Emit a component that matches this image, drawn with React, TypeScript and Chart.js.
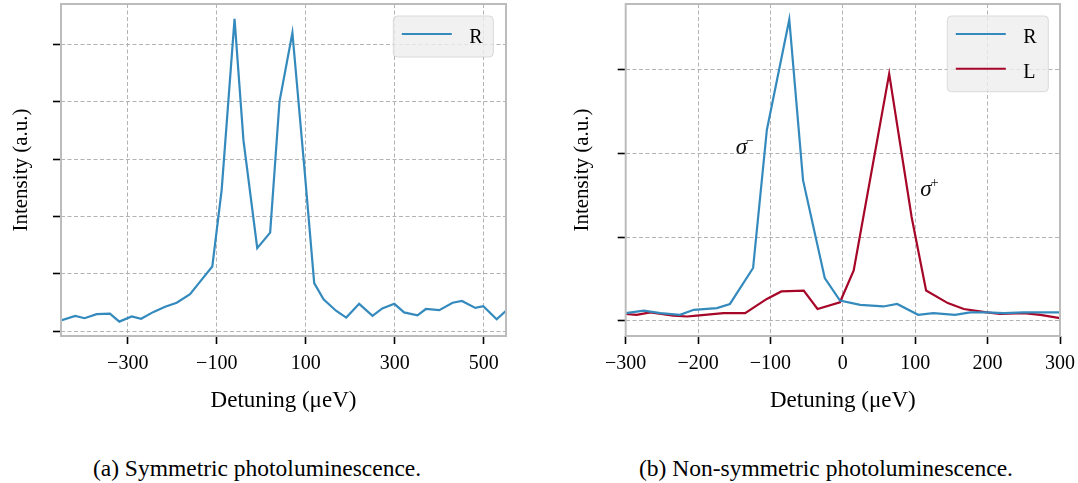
import React, { useEffect, useRef } from "react";
import { Chart, registerables } from "chart.js";

Chart.register(...registerables);

// ---------- Data: (a) symmetric photoluminescence ----------
const symDetuning = [
  -450, -418, -397, -370, -340, -319, -291, -270, -242, -216, -190, -160, -137, -110, -89, -60, -40, -9, 20, 41,
  70, 98, 119, 140, 168, 191, 220, 250, 272, 299, 321, 351, 370, 400, 430, 451, 481, 499, 529, 550,
];
const symR = [
  0.19, 0.27, 0.23, 0.3, 0.31, 0.17, 0.26, 0.22, 0.34, 0.43, 0.5, 0.65, 0.87, 1.13, 2.46, 5.44, 3.33, 1.45, 1.72, 4.0,
  5.2, 2.75, 0.84, 0.56, 0.36, 0.24, 0.48, 0.27, 0.4, 0.48, 0.33, 0.28, 0.39, 0.37, 0.5, 0.53, 0.41, 0.44, 0.21, 0.36,
];

// ---------- Data: (b) non-symmetric photoluminescence ----------
const asymDetuningR = [
  -300, -275, -252, -225, -206, -174, -156, -124, -105, -74, -55, -25, -4, 24, 56, 75, 104, 125, 155, 176, 199, 222,
  250, 277, 300,
];
const asymR = [
  0.09, 0.12, 0.09, 0.07, 0.13, 0.15, 0.2, 0.63, 2.28, 3.6, 1.68, 0.51, 0.24, 0.19, 0.17, 0.2, 0.07, 0.09, 0.07, 0.1,
  0.1, 0.09, 0.1, 0.1, 0.1,
];
const asymDetuningL = [
  -300, -285, -266, -234, -215, -202, -165, -135, -105, -85, -54, -35, -4, 15, 64, 95, 115, 145, 167, 199, 217, 250,
  273, 300,
];
const asymL = [
  0.08, 0.07, 0.1, 0.06, 0.05, 0.06, 0.09, 0.09, 0.26, 0.35, 0.36, 0.14, 0.22, 0.6, 2.95, 1.24, 0.36, 0.21, 0.14, 0.1,
  0.08, 0.09, 0.07, 0.03,
];

// ---------- Tick values ----------
const xTicksA = [-300, -100, 100, 300, 500];
const yTicksA = [0, 1, 2, 3, 4, 5];
const xTicksB = [-300, -200, -100, 0, 100, 200, 300];
const yTicksB = [0, 1, 2, 3];

const seriesLabels = ["R", "L"];
const captionA = "(a) Symmetric photoluminescence.";
const captionB = "(b) Non-symmetric photoluminescence.";
const xTitle = "Detuning (μeV)";
const yTitle = "Intensity (a.u.)";

const BLUE = "#348ABD";
const RED = "#A60628";
const SERIF = '"Liberation Serif", "DejaVu Serif", serif';

const fmt = (v: number) => (v < 0 ? "\u2212" + Math.abs(v) : String(v));
const toPoints = (xs: number[], ys: number[]) => xs.map((x, i) => ({ x, y: ys[i] }));

const framePlugin = {
  id: "frame",
  afterDatasetsDraw(chart: any) {
    const { ctx, chartArea: a } = chart;
    ctx.save();
    ctx.strokeStyle = "#bcbcbc";
    ctx.lineWidth = 2;
    ctx.strokeRect(a.left, a.top, a.right - a.left, a.bottom - a.top);
    ctx.restore();
  },
};

const boxLegendPlugin = {
  id: "boxLegend",
  afterDraw(chart: any, _args: any, opts: any) {
    const { ctx, chartArea: a } = chart;
    const n = chart.data.datasets.length;
    const w = opts.width;
    const h = 18 + (n - 1) * opts.rowHeight + 23;
    const x0 = a.right - opts.right - w;
    const y0 = a.top + opts.top;
    ctx.save();
    ctx.beginPath();
    if (ctx.roundRect) ctx.roundRect(x0, y0, w, h, 4);
    else ctx.rect(x0, y0, w, h);
    ctx.fillStyle = "rgba(238,238,238,0.8)";
    ctx.fill();
    ctx.strokeStyle = "rgba(210,210,210,0.8)";
    ctx.lineWidth = 1;
    ctx.stroke();
    chart.data.datasets.forEach((ds: any, i: number) => {
      const ly = y0 + 18 + i * opts.rowHeight;
      ctx.beginPath();
      ctx.strokeStyle = ds.borderColor;
      ctx.lineWidth = 2;
      ctx.moveTo(x0 + 8.5, ly);
      ctx.lineTo(x0 + 58.5, ly);
      ctx.stroke();
      ctx.fillStyle = "#000";
      ctx.font = `20px ${SERIF}`;
      ctx.textBaseline = "alphabetic";
      ctx.textAlign = "left";
      ctx.fillText(ds.label, x0 + 76, ly + 9);
    });
    ctx.restore();
  },
};

const sigmaPlugin = {
  id: "sigmaNotes",
  afterDatasetsDraw(chart: any, _args: any, opts: any) {
    const notes = opts.notes || [];
    if (!notes.length) return;
    const { ctx, scales } = chart;
    ctx.save();
    ctx.fillStyle = "#111";
    ctx.textBaseline = "alphabetic";
    ctx.textAlign = "left";
    notes.forEach((nt: any) => {
      const px = scales.x.getPixelForValue(nt.x);
      const py = scales.y.getPixelForValue(nt.y);
      ctx.font = `italic 23px ${SERIF}`;
      ctx.fillText(nt.text, px, py);
      const w = ctx.measureText(nt.text).width;
      ctx.font = `14px ${SERIF}`;
      ctx.fillText(nt.sup, px + w - 1, py - 9);
    });
    ctx.restore();
  },
};

function makeScales(o: {
  xMin: number;
  xMax: number;
  yMin: number;
  yMax: number;
  xTicks: number[];
  yTicks: number[];
  yWidth: number;
  yTitlePad: number;
}) {
  const grid = {
    color: "#b2b2b2",
    lineWidth: 1,
    drawTicks: true,
    tickLength: 8,
    tickColor: "#000",
    tickWidth: 1.6,
    tickBorderDash: [],
  };
  return {
    x: {
      type: "linear" as const,
      min: o.xMin,
      max: o.xMax,
      afterBuildTicks: (s: any) => {
        s.ticks = o.xTicks.map((v) => ({ value: v }));
      },
      afterFit: (s: any) => {
        s.height = 84;
        s.paddingLeft = 0;
        s.paddingRight = 0;
      },
      grid,
      border: { display: false, dash: [4, 2.5] },
      ticks: {
        color: "#000",
        font: { family: SERIF, size: 20 },
        padding: 8,
        maxRotation: 0,
        autoSkip: false,
        callback: (v: any) => fmt(Number(v)),
      },
      title: {
        display: true,
        text: xTitle,
        color: "#000",
        font: { family: SERIF, size: 23 },
        padding: { top: 0, bottom: 5 },
      },
    },
    y: {
      type: "linear" as const,
      min: o.yMin,
      max: o.yMax,
      afterBuildTicks: (s: any) => {
        s.ticks = o.yTicks.map((v) => ({ value: v }));
      },
      afterFit: (s: any) => {
        s.width = o.yWidth;
        s.paddingTop = 0;
        s.paddingBottom = 0;
      },
      grid,
      border: { display: false, dash: [4, 2.5] },
      ticks: { display: false },
      title: {
        display: true,
        text: yTitle,
        color: "#000",
        font: { family: SERIF, size: 21 },
        padding: { top: o.yTitlePad, bottom: 0 },
      },
    },
  };
}

function PlotA() {
  const ref = useRef<HTMLCanvasElement | null>(null);
  useEffect(() => {
    if (!ref.current) return;
    const chart = new Chart(ref.current, {
      type: "line",
      data: {
        datasets: [
          {
            label: seriesLabels[0],
            data: toPoints(symDetuning, symR),
            borderColor: BLUE,
            backgroundColor: BLUE,
            borderWidth: 2.2,
            pointRadius: 0,
            tension: 0,
          },
        ],
      },
      options: {
        animation: false,
        responsive: false,
        devicePixelRatio: 1,
        layout: { padding: { left: 0, top: 4, right: 34, bottom: 0 } },
        plugins: {
          legend: { display: false },
          tooltip: { enabled: false },
          boxLegend: { right: 12.7, top: 12, width: 100, rowHeight: 34.7 },
          sigmaNotes: { notes: [] },
        } as any,
        scales: makeScales({
          xMin: -450,
          xMax: 550,
          yMin: -0.08,
          yMax: 5.7,
          xTicks: xTicksA,
          yTicks: yTicksA,
          yWidth: 61,
          yTitlePad: 9,
        }) as any,
      },
      plugins: [framePlugin, boxLegendPlugin, sigmaPlugin],
    });
    return () => chart.destroy();
  }, []);
  return (
    <canvas
      ref={ref}
      width={540}
      height={420}
      style={{ position: "absolute", left: 0, top: 0, width: 540, height: 420 }}
    />
  );
}

function PlotB() {
  const ref = useRef<HTMLCanvasElement | null>(null);
  useEffect(() => {
    if (!ref.current) return;
    const chart = new Chart(ref.current, {
      type: "line",
      data: {
        datasets: [
          {
            label: seriesLabels[0],
            data: toPoints(asymDetuningR, asymR),
            borderColor: BLUE,
            backgroundColor: BLUE,
            borderWidth: 2.2,
            pointRadius: 0,
            tension: 0,
          },
          {
            label: seriesLabels[1],
            data: toPoints(asymDetuningL, asymL),
            borderColor: RED,
            backgroundColor: RED,
            borderWidth: 2.2,
            pointRadius: 0,
            tension: 0,
          },
        ],
      },
      options: {
        animation: false,
        responsive: false,
        devicePixelRatio: 1,
        layout: { padding: { left: 0, top: 4, right: 18, bottom: 0 } },
        plugins: {
          legend: { display: false },
          tooltip: { enabled: false },
          boxLegend: { right: 11.7, top: 12, width: 101, rowHeight: 34.7 },
          sigmaNotes: {
            notes: [
              { text: "σ", sup: "\u2212", x: -148, y: 1.99 },
              { text: "σ", sup: "+", x: 107, y: 1.49 },
            ],
          },
        } as any,
        scales: makeScales({
          xMin: -300,
          xMax: 300,
          yMin: -0.183,
          yMax: 3.785,
          xTicks: xTicksB,
          yTicks: yTicksB,
          yWidth: 85.7,
          yTitlePad: 30,
        }) as any,
      },
      plugins: [framePlugin, boxLegendPlugin, sigmaPlugin],
    });
    return () => chart.destroy();
  }, []);
  return (
    <canvas
      ref={ref}
      width={538}
      height={420}
      style={{ position: "absolute", left: 540, top: 0, width: 538, height: 420 }}
    />
  );
}

const captionStyle: React.CSSProperties = {
  position: "absolute",
  top: 454,
  fontFamily: SERIF,
  fontSize: 23.5,
  lineHeight: "28px",
  color: "#000",
  whiteSpace: "nowrap",
  transform: "translateX(-50%)",
};

export default function App() {
  return (
    <div
      style={{
        position: "fixed",
        left: 0,
        top: 0,
        width: 1078,
        height: 483,
        background: "#fff",
        overflow: "hidden",
      }}
    >
      <PlotA />
      <PlotB />
      <div style={{ ...captionStyle, left: 257 }}>{captionA}</div>
      <div style={{ ...captionStyle, left: 826 }}>{captionB}</div>
    </div>
  );
}
